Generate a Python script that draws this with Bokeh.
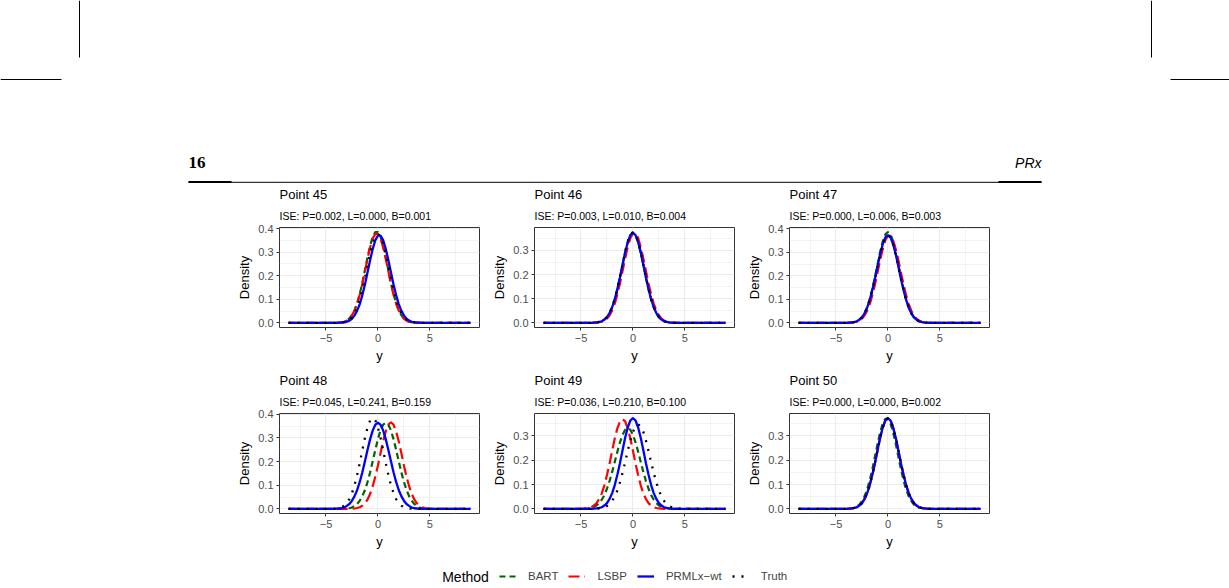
from bokeh.plotting import figure
from bokeh.models import (Range1d, FixedTicker, Title, Legend, LegendItem, Spacer,
                          PrintfTickFormatter)
from bokeh.layouts import column, row
from bokeh.embed import file_html
from bokeh.resources import INLINE
from bokeh.core.properties import value

# ---------------- data ----------------
x_grid = [-8.6, -5.0, -4.75, -4.5, -4.25, -4.0, -3.75, -3.5, -3.25, -3.0, -2.75, -2.5,
          -2.25, -2.0, -1.75, -1.5, -1.25, -1.0, -0.75, -0.5, -0.25, 0.0, 0.25, 0.5,
          0.75, 1.0, 1.25, 1.5, 1.75, 2.0, 2.25, 2.5, 2.75, 3.0, 3.25, 3.5, 3.75, 4.0,
          4.25, 4.5, 4.75, 5.0, 8.9]

point_ids = [45, 46, 47, 48, 49, 50]
ise_p = [0.002, 0.003, 0.000, 0.045, 0.036, 0.000]
ise_l = [0.000, 0.010, 0.006, 0.241, 0.210, 0.000]
ise_b = [0.001, 0.004, 0.003, 0.159, 0.100, 0.002]

methods = ["BART", "LSBP", "PRMLx\u2212wt", "Truth"]

p45_bart = [0.0, 0, 0, 0, 0, 0.001, 0.001, 0.003, 0.005, 0.010, 0.019, 0.033, 0.054, 0.083, 0.123, 0.170, 0.224, 0.278, 0.327, 0.365, 0.385, 0.385, 0.365, 0.327, 0.278, 0.224, 0.170, 0.123, 0.083, 0.054, 0.033, 0.019, 0.010, 0.005, 0.003, 0.001, 0.001, 0, 0, 0, 0, 0, 0.0]
p45_lsbp = [0.0, 0, 0, 0, 0, 0.001, 0.001, 0.003, 0.005, 0.010, 0.018, 0.033, 0.053, 0.082, 0.120, 0.166, 0.219, 0.272, 0.320, 0.358, 0.377, 0.377, 0.358, 0.320, 0.272, 0.219, 0.166, 0.120, 0.082, 0.053, 0.033, 0.018, 0.010, 0.005, 0.003, 0.001, 0.001, 0, 0, 0, 0, 0, 0.0]
p45_prml = [0.0, 0, 0, 0, 0, 0, 0.001, 0.001, 0.003, 0.005, 0.010, 0.018, 0.032, 0.052, 0.080, 0.118, 0.163, 0.215, 0.267, 0.314, 0.351, 0.370, 0.370, 0.351, 0.314, 0.267, 0.215, 0.163, 0.118, 0.080, 0.052, 0.032, 0.018, 0.010, 0.005, 0.003, 0.001, 0.001, 0, 0, 0, 0, 0.0]
p45_truth = [0.0, 0, 0, 0, 0, 0, 0.001, 0.002, 0.004, 0.007, 0.014, 0.024, 0.041, 0.066, 0.099, 0.141, 0.190, 0.243, 0.295, 0.337, 0.367, 0.376, 0.367, 0.337, 0.295, 0.243, 0.190, 0.141, 0.099, 0.066, 0.041, 0.024, 0.014, 0.007, 0.004, 0.002, 0.001, 0, 0, 0, 0, 0, 0.0]

p46_bart = [0.0, 0, 0, 0, 0, 0, 0.001, 0.002, 0.004, 0.007, 0.014, 0.024, 0.041, 0.065, 0.098, 0.140, 0.188, 0.241, 0.292, 0.334, 0.363, 0.373, 0.363, 0.334, 0.292, 0.241, 0.188, 0.140, 0.098, 0.065, 0.041, 0.024, 0.014, 0.007, 0.004, 0.002, 0.001, 0, 0, 0, 0, 0, 0.0]
p46_lsbp = [0.0, 0, 0, 0, 0, 0, 0.001, 0.001, 0.003, 0.005, 0.010, 0.018, 0.032, 0.052, 0.080, 0.118, 0.163, 0.215, 0.267, 0.314, 0.351, 0.370, 0.370, 0.351, 0.314, 0.267, 0.215, 0.163, 0.118, 0.080, 0.052, 0.032, 0.018, 0.010, 0.005, 0.003, 0.001, 0.001, 0, 0, 0, 0, 0.0]
p46_prml = [0.0, 0, 0, 0, 0, 0, 0.001, 0.002, 0.004, 0.007, 0.014, 0.024, 0.041, 0.065, 0.098, 0.140, 0.188, 0.241, 0.292, 0.334, 0.363, 0.373, 0.363, 0.334, 0.292, 0.241, 0.188, 0.140, 0.098, 0.065, 0.041, 0.024, 0.014, 0.007, 0.004, 0.002, 0.001, 0, 0, 0, 0, 0, 0.0]
p46_truth = [0.0, 0, 0, 0, 0, 0, 0.001, 0.002, 0.004, 0.007, 0.014, 0.024, 0.041, 0.066, 0.099, 0.141, 0.190, 0.243, 0.295, 0.337, 0.367, 0.376, 0.367, 0.337, 0.295, 0.243, 0.190, 0.141, 0.099, 0.066, 0.041, 0.024, 0.014, 0.007, 0.004, 0.002, 0.001, 0, 0, 0, 0, 0, 0.0]

p47_bart = [0.0, 0, 0, 0, 0, 0, 0.001, 0.002, 0.004, 0.007, 0.014, 0.025, 0.042, 0.067, 0.101, 0.145, 0.195, 0.249, 0.302, 0.346, 0.376, 0.386, 0.376, 0.346, 0.302, 0.249, 0.195, 0.145, 0.101, 0.067, 0.042, 0.025, 0.014, 0.007, 0.004, 0.002, 0.001, 0, 0, 0, 0, 0, 0.0]
p47_lsbp = [0.0, 0, 0, 0, 0, 0, 0.001, 0.001, 0.003, 0.005, 0.010, 0.018, 0.032, 0.052, 0.080, 0.118, 0.163, 0.215, 0.267, 0.314, 0.351, 0.370, 0.370, 0.351, 0.314, 0.267, 0.215, 0.163, 0.118, 0.080, 0.052, 0.032, 0.018, 0.010, 0.005, 0.003, 0.001, 0.001, 0, 0, 0, 0, 0.0]
p47_prml = [0.0, 0, 0, 0, 0, 0, 0.001, 0.002, 0.004, 0.007, 0.014, 0.024, 0.041, 0.065, 0.098, 0.140, 0.188, 0.241, 0.292, 0.334, 0.363, 0.373, 0.363, 0.334, 0.292, 0.241, 0.188, 0.140, 0.098, 0.065, 0.041, 0.024, 0.014, 0.007, 0.004, 0.002, 0.001, 0, 0, 0, 0, 0, 0.0]
p47_truth = [0.0, 0, 0, 0, 0, 0, 0.001, 0.002, 0.004, 0.007, 0.014, 0.024, 0.041, 0.065, 0.098, 0.140, 0.188, 0.241, 0.292, 0.334, 0.363, 0.373, 0.363, 0.334, 0.292, 0.241, 0.188, 0.140, 0.098, 0.065, 0.041, 0.024, 0.014, 0.007, 0.004, 0.002, 0.001, 0, 0, 0, 0, 0, 0.0]

p48_bart = [0.0, 0, 0, 0, 0, 0, 0, 0, 0.001, 0.002, 0.003, 0.006, 0.013, 0.021, 0.035, 0.054, 0.080, 0.114, 0.155, 0.202, 0.250, 0.295, 0.332, 0.356, 0.364, 0.356, 0.332, 0.295, 0.250, 0.202, 0.155, 0.114, 0.080, 0.054, 0.035, 0.021, 0.013, 0.006, 0.003, 0.002, 0.001, 0, 0.0]
p48_lsbp = [0.0, 0, 0, 0, 0, 0, 0, 0, 0, 0, 0, 0.001, 0.002, 0.004, 0.007, 0.014, 0.024, 0.040, 0.064, 0.096, 0.137, 0.184, 0.236, 0.286, 0.327, 0.356, 0.366, 0.356, 0.327, 0.286, 0.236, 0.184, 0.137, 0.096, 0.064, 0.040, 0.024, 0.014, 0.007, 0.004, 0.002, 0.001, 0.0]
p48_prml = [0.0, 0, 0, 0, 0, 0.001, 0.002, 0.003, 0.006, 0.013, 0.021, 0.035, 0.054, 0.080, 0.114, 0.155, 0.202, 0.250, 0.295, 0.332, 0.356, 0.364, 0.356, 0.332, 0.295, 0.250, 0.202, 0.155, 0.114, 0.080, 0.054, 0.035, 0.021, 0.013, 0.006, 0.003, 0.002, 0.001, 0, 0, 0, 0, 0.0]
p48_truth = [0.0, 0, 0, 0, 0.001, 0.002, 0.004, 0.007, 0.014, 0.025, 0.042, 0.067, 0.101, 0.144, 0.194, 0.248, 0.301, 0.344, 0.374, 0.384, 0.374, 0.344, 0.301, 0.248, 0.194, 0.144, 0.101, 0.067, 0.042, 0.025, 0.014, 0.007, 0.004, 0.002, 0.001, 0, 0, 0, 0, 0, 0, 0, 0.0]

p49_bart = [0.0, 0, 0.001, 0.001, 0.003, 0.005, 0.008, 0.015, 0.024, 0.038, 0.057, 0.083, 0.115, 0.152, 0.193, 0.235, 0.273, 0.304, 0.325, 0.332, 0.325, 0.304, 0.273, 0.235, 0.193, 0.152, 0.115, 0.083, 0.057, 0.038, 0.024, 0.015, 0.008, 0.005, 0.003, 0.001, 0.001, 0, 0, 0, 0, 0, 0.0]
p49_lsbp = [0.0, 0, 0.001, 0.002, 0.004, 0.007, 0.014, 0.024, 0.041, 0.064, 0.097, 0.139, 0.186, 0.239, 0.289, 0.331, 0.359, 0.369, 0.359, 0.331, 0.289, 0.239, 0.186, 0.139, 0.097, 0.064, 0.041, 0.024, 0.014, 0.007, 0.004, 0.002, 0.001, 0, 0, 0, 0, 0, 0, 0, 0, 0, 0.0]
p49_prml = [0.0, 0, 0, 0, 0, 0, 0.001, 0.002, 0.004, 0.007, 0.014, 0.024, 0.041, 0.065, 0.098, 0.140, 0.188, 0.241, 0.292, 0.334, 0.363, 0.373, 0.363, 0.334, 0.292, 0.241, 0.188, 0.140, 0.098, 0.065, 0.041, 0.024, 0.014, 0.007, 0.004, 0.002, 0.001, 0, 0, 0, 0, 0, 0.0]
p49_truth = [0.0, 0, 0, 0, 0, 0, 0, 0.001, 0.002, 0.003, 0.006, 0.012, 0.020, 0.033, 0.051, 0.076, 0.109, 0.148, 0.192, 0.238, 0.281, 0.316, 0.339, 0.347, 0.339, 0.316, 0.281, 0.238, 0.192, 0.148, 0.109, 0.076, 0.051, 0.033, 0.020, 0.012, 0.006, 0.003, 0.002, 0.001, 0, 0, 0.0]

p50_bart = [0.0, 0, 0, 0, 0, 0.001, 0.001, 0.003, 0.005, 0.010, 0.018, 0.032, 0.052, 0.080, 0.118, 0.163, 0.215, 0.267, 0.314, 0.351, 0.370, 0.370, 0.351, 0.314, 0.267, 0.215, 0.163, 0.118, 0.080, 0.052, 0.032, 0.018, 0.010, 0.005, 0.003, 0.001, 0.001, 0, 0, 0, 0, 0, 0.0]
p50_lsbp = [0.0, 0, 0, 0, 0, 0, 0.001, 0.002, 0.004, 0.007, 0.014, 0.024, 0.041, 0.065, 0.098, 0.140, 0.188, 0.241, 0.292, 0.334, 0.363, 0.373, 0.363, 0.334, 0.292, 0.241, 0.188, 0.140, 0.098, 0.065, 0.041, 0.024, 0.014, 0.007, 0.004, 0.002, 0.001, 0, 0, 0, 0, 0, 0.0]
p50_prml = [0.0, 0, 0, 0, 0, 0, 0.001, 0.002, 0.004, 0.007, 0.014, 0.024, 0.041, 0.065, 0.098, 0.140, 0.188, 0.241, 0.292, 0.334, 0.363, 0.373, 0.363, 0.334, 0.292, 0.241, 0.188, 0.140, 0.098, 0.065, 0.041, 0.024, 0.014, 0.007, 0.004, 0.002, 0.001, 0, 0, 0, 0, 0, 0.0]
p50_truth = [0.0, 0, 0, 0, 0, 0, 0.001, 0.002, 0.004, 0.007, 0.014, 0.024, 0.041, 0.065, 0.098, 0.140, 0.188, 0.241, 0.292, 0.334, 0.363, 0.373, 0.363, 0.334, 0.292, 0.241, 0.188, 0.140, 0.098, 0.065, 0.041, 0.024, 0.014, 0.007, 0.004, 0.002, 0.001, 0, 0, 0, 0, 0, 0.0]

panel_series = [
    [p45_bart, p45_lsbp, p45_prml, p45_truth],
    [p46_bart, p46_lsbp, p46_prml, p46_truth],
    [p47_bart, p47_lsbp, p47_prml, p47_truth],
    [p48_bart, p48_lsbp, p48_prml, p48_truth],
    [p49_bart, p49_lsbp, p49_prml, p49_truth],
    [p50_bart, p50_lsbp, p50_prml, p50_truth],
]

# ---------------- style ----------------
FONT = "Liberation Sans"
colors = ["#006400", "#FF0000", "#0000FF", "#000000"]
dashes = ["6 4", "11 5", "solid", "2 7"]
widths = [2.2, 2.2, 2.3, 2.3]

W_PAGE = 1229


def make_panel(k):
    series = panel_series[k]
    xmin, xmax = min(x_grid), max(x_grid)
    xpad = 0.05 * (xmax - xmin)
    ymax = max(max(s) for s in series)
    p = figure(frame_width=200, frame_height=100,
               x_range=Range1d(xmin - xpad, xmax + xpad),
               y_range=Range1d(-0.05 * ymax, 1.05 * ymax),
               toolbar_location=None, output_backend="svg",
               min_border_left=49, min_border_right=6,
               min_border_top=44, min_border_bottom=42)
    p.background_fill_color = "white"
    p.border_fill_color = "white"
    p.outline_line_color = "#333333"
    p.outline_line_width = 1

    p.xaxis.ticker = FixedTicker(ticks=[-5, 0, 5], minor_ticks=[-7.5, -2.5, 2.5, 7.5])
    p.xaxis.major_label_overrides = {-5: "\u22125", 0: "0", 5: "5"}
    p.yaxis.ticker = FixedTicker(ticks=[0, 0.1, 0.2, 0.3, 0.4],
                                 minor_ticks=[0.05, 0.15, 0.25, 0.35])
    p.yaxis.formatter = PrintfTickFormatter(format="%.1f")
    p.xaxis.axis_label = "y"
    p.yaxis.axis_label = "Density"
    for ax in (p.xaxis, p.yaxis):
        ax.axis_line_color = None
        ax.major_tick_line_color = "#333333"
        ax.major_tick_out = 3
        ax.major_tick_in = 0
        ax.minor_tick_line_color = None
        ax.major_label_text_font = FONT
        ax.major_label_text_font_size = "11px"
        ax.major_label_text_color = "#4D4D4D"
        ax.major_label_standoff = 2
        ax.axis_label_text_font = FONT
        ax.axis_label_text_font_size = "13px"
        ax.axis_label_text_font_style = "normal"
        ax.axis_label_text_color = "black"
        ax.axis_label_standoff = 3
    p.grid.grid_line_color = "#EBEBEB"
    p.grid.grid_line_width = 1.1
    p.grid.minor_grid_line_color = "#EBEBEB"
    p.grid.minor_grid_line_width = 0.6

    for s, c, d, w in zip(series, colors, dashes, widths):
        p.line(x_grid, s, line_color=c, line_dash=d, line_width=w)

    sub = Title(text=f"ISE: P={ise_p[k]:.3f}, L={ise_l[k]:.3f}, B={ise_b[k]:.3f}",
                align="left", text_font=FONT, text_font_size="10.5px",
                text_font_style="normal", text_color="black", standoff=10.5)
    ttl = Title(text=f"Point {point_ids[k]}", align="left", text_font=FONT,
                text_font_size="13px", text_font_style="normal", text_color="black",
                standoff=2)
    p.add_layout(sub, "above")
    p.add_layout(ttl, "above")
    return p


panels = [make_panel(k) for k in range(6)]

# ---------------- page header ----------------
hdr = figure(width=W_PAGE, height=183, x_range=Range1d(0, W_PAGE), y_range=Range1d(183, 0),
             toolbar_location=None, output_backend="svg", min_border=0,
             x_axis_location=None, y_axis_location=None)
hdr.outline_line_color = None
hdr.grid.visible = False
hdr.segment(x0=[79, 0, 1151, 1170, 188], y0=[0, 79, 0, 79, 181.8],
            x1=[79, 61, 1151, W_PAGE, 1041], y1=[57, 79, 57, 79, 181.8],
            line_color="black", line_width=1)
hdr.segment(x0=[188, 998], y0=[181.5, 181.5], x1=[231, 1041], y1=[181.5, 181.5],
            line_color="black", line_width=2)
hdr.text(x=[188], y=[162], text=["16"], text_font=value("Liberation Serif"),
         text_font_style="bold", text_font_size="17px", text_baseline="alphabetic")
hdr.text(x=[1041], y=[162], text=["PRx"], text_font=value(FONT),
         text_font_style="italic", text_font_size="14px", text_baseline="alphabetic",
         text_align="right")

# ---------------- legend ----------------
lg = figure(width=W_PAGE, height=33, x_range=Range1d(0, W_PAGE), y_range=Range1d(0, 33),
            toolbar_location=None, output_backend="svg", min_border=0,
            x_axis_location=None, y_axis_location=None)
lg.outline_line_color = None
lg.grid.visible = False
items = []
for m, c, d, w in zip(methods, colors, dashes, widths):
    # legend-only renderers: data placed outside the visible range
    r = lg.line([-50, -40], [-50, -50], line_color=c, line_dash=d, line_width=w)
    items.append(LegendItem(label=m, renderers=[r]))
legend = Legend(items=items, orientation="horizontal", location=(499, 6),
                glyph_width=17, glyph_height=12, label_height=12, label_standoff=12,
                spacing=10, padding=0, margin=0, border_line_color=None,
                background_fill_alpha=0, label_text_font=FONT,
                label_text_font_size="11.5px")
lg.add_layout(legend)
lg.text(x=[441.7], y=[12], text=["Method"], text_font=value(FONT),
        text_font_size="14px", text_baseline="middle")

layout = column(
    hdr,
    row(Spacer(width=230, height=186), panels[0], panels[1], panels[2]),
    row(Spacer(width=230, height=186), panels[3], panels[4], panels[5]),
    lg,
)

open("out.html", "w").write(file_html(layout, INLINE))
